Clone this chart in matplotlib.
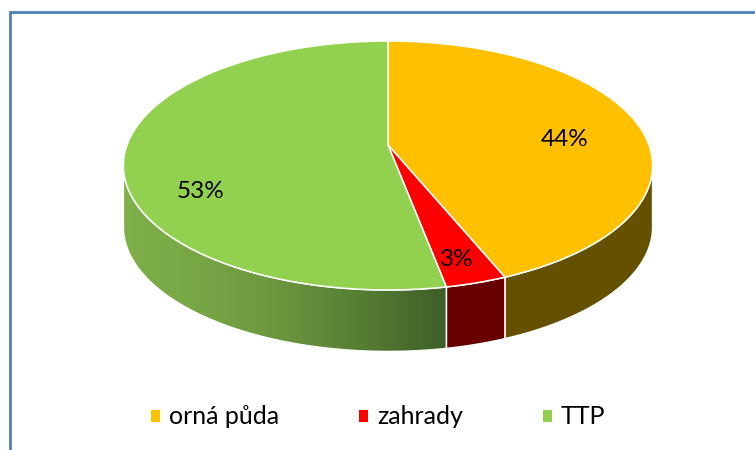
import numpy as np
import matplotlib
matplotlib.use("Agg")
import matplotlib.pyplot as plt
from matplotlib.path import Path
from matplotlib.patches import PathPatch
from matplotlib.transforms import Transform
from matplotlib.colors import LinearSegmentedColormap

categories = ["orná půda", "zahrady", "TTP"]
values = [43.8, 3.2, 53.0]
colors = ["#FFC000", "#FF0000", "#92D050"]
wall_colors = ["#655000", "#680000", None]
label_xy = [(565, 139), (457, 258), (201, 190)]

CX, CY, M, K, C, DEPTH = 388.0, 145.0, 261.0, 121.1, 0.1647, 61.5


class Tilt(Transform):
    """Projects the unit-circle pie onto the tilted disc, in pixel coordinates."""
    input_dims = 2
    output_dims = 2

    def transform_non_affine(self, xy):
        xy = np.asarray(xy, float)
        w = 1 + C * xy[:, 1]
        return np.column_stack([CX + M * xy[:, 0] / w, CY - K * xy[:, 1] / w])


tilt = Tilt()


def rim(a, b, n=200):
    t = np.radians(np.linspace(a, b, n))
    return tilt.transform_non_affine(np.column_stack([np.sin(t), np.cos(t)]))


fig = plt.figure(figsize=(7.55, 4.5), dpi=100)
ax = fig.add_axes([0, 0, 1, 1])
wedges, _ = ax.pie(values, colors=colors, startangle=90, counterclock=False,
                   wedgeprops=dict(edgecolor="white", linewidth=1.1))
ax.set_aspect("auto")
ax.set_xlim(0, 755)
ax.set_ylim(450, 0)
ax.axis("off")
for w in wedges:
    w.set_transform(tilt + ax.transData)
    w.set_zorder(5)

# frame
ax.plot([9.5, 9.5, 755], [450, 11.5, 11.5], color="#4F81BD", lw=2.0, zorder=1,
        solid_joinstyle="miter")

# side walls
vis_a = np.degrees(np.arccos(-C))
vis_b = 360 - vis_a
green = LinearSegmentedColormap.from_list(
    "g", ["#7FB04A", "#77A545", "#6A953E", "#557C33", "#3F5F28"])
edges = np.cumsum([0] + values) * 3.6
for i in range(len(values)):
    a, b = max(edges[i], vis_a), min(edges[i + 1], vis_b)
    if b <= a:
        continue
    top = rim(a, b)
    bot = top + [0, DEPTH]
    verts = np.vstack([top, bot[::-1], top[:1]])
    path = Path(verts, closed=True)
    if wall_colors[i]:
        ax.add_patch(PathPatch(path, fc=wall_colors[i], ec="white", lw=1.1, zorder=3))
    else:
        x0, x1 = verts[:, 0].min(), verts[:, 0].max()
        y0, y1 = verts[:, 1].min(), verts[:, 1].max()
        grad = np.linspace(0, 1, 256)[None, :]
        im = ax.imshow(grad, extent=[x0, x1, y1, y0], cmap=green, aspect="auto", zorder=3)
        clip = PathPatch(path, fc="none", ec="white", lw=1.1, zorder=3.1)
        ax.add_patch(clip)
        im.set_clip_path(clip)
ax.set_xlim(0, 755)
ax.set_ylim(450, 0)

font = "Lato"
for v, (x, y) in zip(values, label_xy):
    ax.text(x, y + 1, f"{v:.0f}%", ha="center", va="center", fontsize=17.5, family=font,
            color="black", zorder=6)

leg = ax.legend(wedges, categories, loc="center", bbox_to_anchor=(378 / 755, 1 - 417 / 450),
                ncol=3, frameon=False, prop=dict(family=font, size=18),
                handlelength=0.36, handleheight=0.36, handletextpad=0.36, columnspacing=3.2)
for h in leg.legend_handles:
    h.set_linewidth(0)

fig.savefig("out.png", dpi=100)
